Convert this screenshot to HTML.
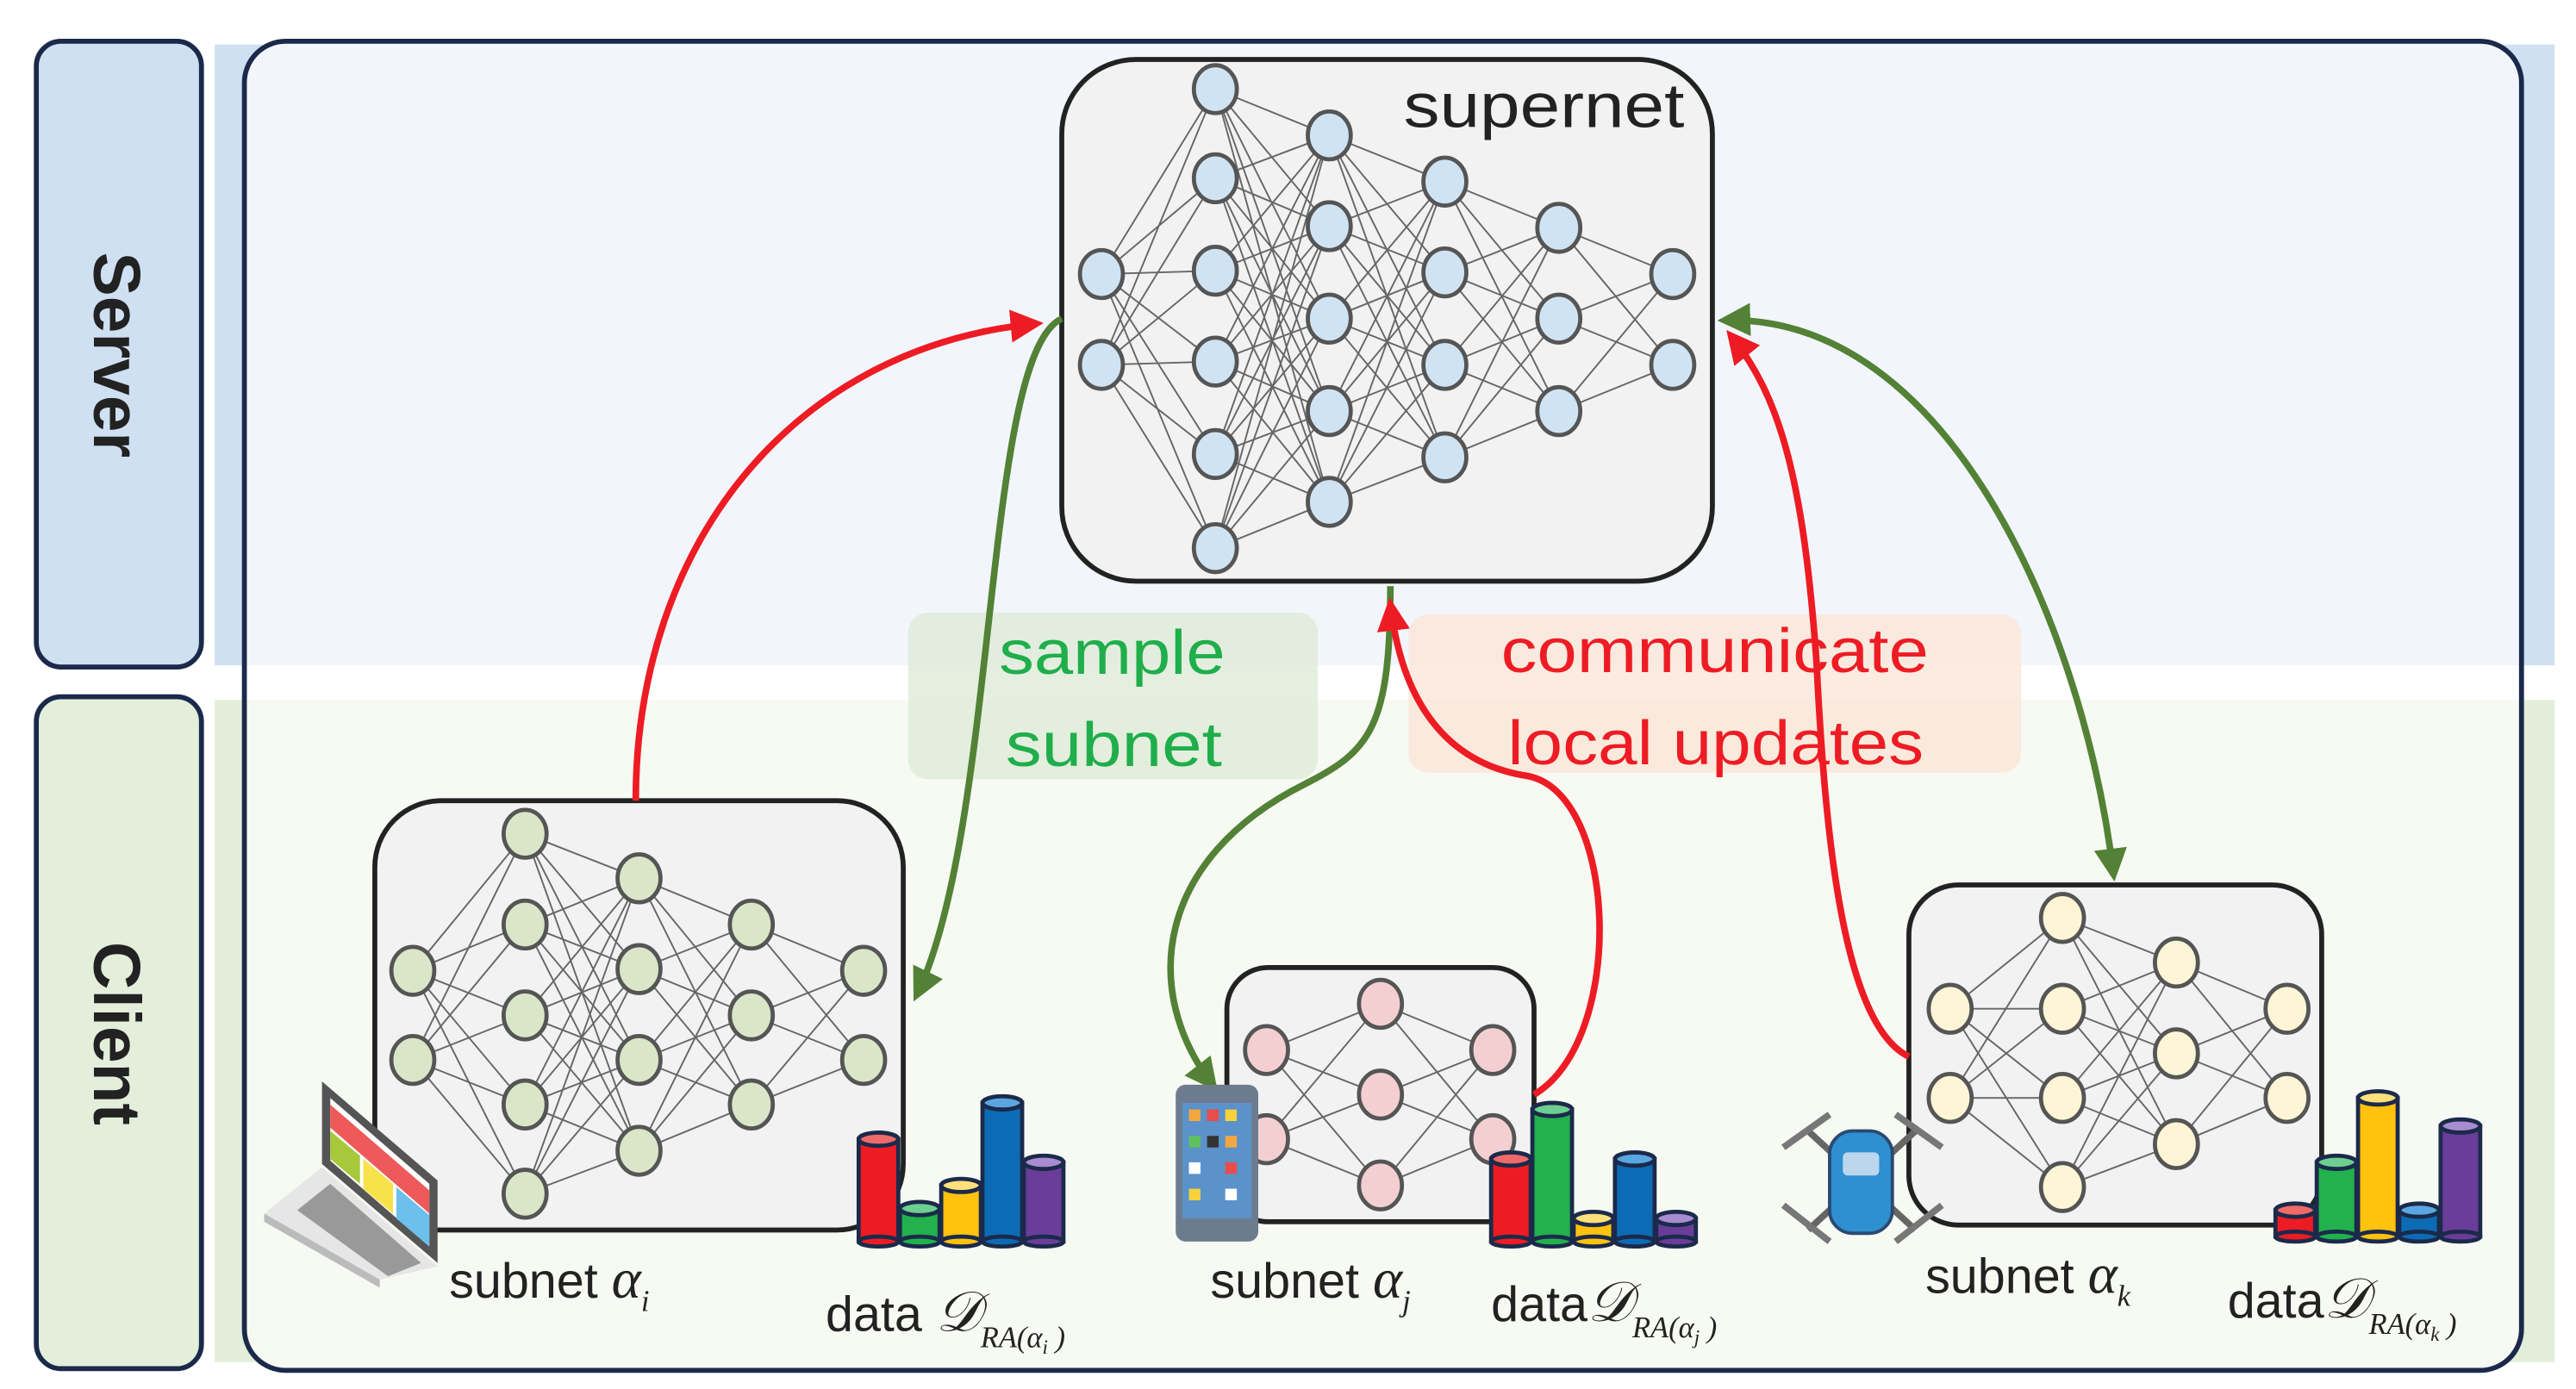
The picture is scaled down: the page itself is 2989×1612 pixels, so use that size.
<!DOCTYPE html>
<html><head><meta charset="utf-8">
<style>
html,body{margin:0;padding:0;background:#fff;}
svg{display:block;}
text{font-family:"Liberation Sans",sans-serif;}
</style></head>
<body>
<svg width="2989" height="1612" viewBox="0 0 1560 841.3" preserveAspectRatio="none" xmlns="http://www.w3.org/2000/svg">
<defs>
<marker id="ar" viewBox="0 0 10 10" refX="8" refY="5" markerWidth="5" markerHeight="5" orient="auto-start-reverse" markerUnits="strokeWidth"><path d="M0,0 L10,5 L0,10 z" fill="#ed1c24"/></marker>
<marker id="ag" viewBox="0 0 10 10" refX="8" refY="5" markerWidth="5" markerHeight="5" orient="auto-start-reverse" markerUnits="strokeWidth"><path d="M0,0 L10,5 L0,10 z" fill="#538135"/></marker>
</defs>
<rect x="130" y="27" width="1417" height="376" fill="#cfe0f3"/>
<rect x="130" y="424" width="1417" height="401" fill="#e2eed9"/>
<rect x="148" y="25" width="1379" height="805" rx="25" fill="#fff"/>
<path d="M173,25 H1502 A25,25 0 0 1 1527,50 V403 H148 V50 A25,25 0 0 1 173,25z" fill="#f2f6fc"/>
<path d="M148,424 H1527 V805 A25,25 0 0 1 1502,830 H173 A25,25 0 0 1 148,805z" fill="#f7f9f3"/>
<rect x="148" y="25" width="1379" height="805" rx="25" fill="none" stroke="#1b2a4a" stroke-width="3"/>
<rect x="22" y="25" width="100" height="379" rx="15" fill="#cfe0f2" stroke="#1b2a4a" stroke-width="3"/>
<text transform="translate(57,215) rotate(90)" text-anchor="middle" font-size="40" font-weight="bold" fill="#222">Server</text>
<rect x="22" y="422" width="100" height="407" rx="15" fill="#e3eedb" stroke="#1b2a4a" stroke-width="3"/>
<text transform="translate(57,626) rotate(90)" text-anchor="middle" font-size="40" font-weight="bold" fill="#222">Client</text>

<rect x="643" y="36" width="394" height="316" rx="45" fill="#f2f2f2" stroke="#222" stroke-width="3"/>
<text x="850" y="77" font-size="38" fill="#222" textLength="170" lengthAdjust="spacingAndGlyphs">supernet</text>
<rect x="227" y="485" width="320" height="260" rx="40" fill="#f2f2f2" stroke="#222" stroke-width="3"/>
<rect x="743" y="586" width="186" height="154" rx="25" fill="#f2f2f2" stroke="#222" stroke-width="3"/>
<rect x="1156" y="536" width="250" height="206" rx="30" fill="#f2f2f2" stroke="#222" stroke-width="3"/>

<g stroke="#666" stroke-width="1" fill="none">
<!-- supernet -->
<path d="M667 166L736 54M667 166L736 108M667 166L736 164M667 166L736 219M667 166L736 275M667 166L736 332M667 221L736 54M667 221L736 108M667 221L736 164M667 221L736 219M667 221L736 275M667 221L736 332
M736 54L805 82M736 54L805 137M736 54L805 193M736 54L805 249M736 54L805 304
M736 108L805 82M736 108L805 137M736 108L805 193M736 108L805 249M736 108L805 304
M736 164L805 82M736 164L805 137M736 164L805 193M736 164L805 249M736 164L805 304
M736 219L805 82M736 219L805 137M736 219L805 193M736 219L805 249M736 219L805 304
M736 275L805 82M736 275L805 137M736 275L805 193M736 275L805 249M736 275L805 304
M736 332L805 82M736 332L805 137M736 332L805 193M736 332L805 249M736 332L805 304
M805 82L875 110M805 82L875 165M805 82L875 221M805 82L875 277
M805 137L875 110M805 137L875 165M805 137L875 221M805 137L875 277
M805 193L875 110M805 193L875 165M805 193L875 221M805 193L875 277
M805 249L875 110M805 249L875 165M805 249L875 221M805 249L875 277
M805 304L875 110M805 304L875 165M805 304L875 221M805 304L875 277
M875 110L944 138M875 110L944 193M875 110L944 249
M875 165L944 138M875 165L944 193M875 165L944 249
M875 221L944 138M875 221L944 193M875 221L944 249
M875 277L944 138M875 277L944 193M875 277L944 249
M944 138L1013 166M944 138L1013 221M944 193L1013 166M944 193L1013 221M944 249L1013 166M944 249L1013 221"/>
<!-- client i -->
<path d="M250 588L318 505M250 588L318 560M250 588L318 615M250 588L318 669M250 588L318 723M250 642L318 505M250 642L318 560M250 642L318 615M250 642L318 669M250 642L318 723
M318 505L387 532M318 505L387 587M318 505L387 642M318 505L387 697
M318 560L387 532M318 560L387 587M318 560L387 642M318 560L387 697
M318 615L387 532M318 615L387 587M318 615L387 642M318 615L387 697
M318 669L387 532M318 669L387 587M318 669L387 642M318 669L387 697
M318 723L387 532M318 723L387 587M318 723L387 642M318 723L387 697
M387 532L455 560M387 532L455 615M387 532L455 669
M387 587L455 560M387 587L455 615M387 587L455 669
M387 642L455 560M387 642L455 615M387 642L455 669
M387 697L455 560M387 697L455 615M387 697L455 669
M455 560L523 588M455 560L523 642M455 615L523 588M455 615L523 642M455 669L523 588M455 669L523 642"/>
<!-- client j -->
<path d="M767 636L836 608M767 636L836 663M767 636L836 718M767 690L836 608M767 690L836 663M767 690L836 718
M836 608L904 636M836 608L904 690M836 663L904 636M836 663L904 690M836 718L904 636M836 718L904 690"/>
<!-- client k -->
<path d="M1181 611L1249 556M1181 611L1249 611M1181 611L1249 665M1181 611L1249 719M1181 665L1249 556M1181 665L1249 611M1181 665L1249 665M1181 665L1249 719
M1249 556L1318 583M1249 556L1318 638M1249 556L1318 693
M1249 611L1318 583M1249 611L1318 638M1249 611L1318 693
M1249 665L1318 583M1249 665L1318 638M1249 665L1318 693
M1249 719L1318 583M1249 719L1318 638M1249 719L1318 693
M1318 583L1385 611M1318 583L1385 665M1318 638L1385 611M1318 638L1385 665M1318 693L1385 611M1318 693L1385 665"/>
</g>

<g stroke="#555" stroke-width="2.5" fill="#d0e3f3">
<ellipse cx="667" cy="166" rx="13" ry="14.5"/><ellipse cx="667" cy="221" rx="13" ry="14.5"/>
<ellipse cx="736" cy="54" rx="13" ry="14.5"/><ellipse cx="736" cy="108" rx="13" ry="14.5"/><ellipse cx="736" cy="164" rx="13" ry="14.5"/><ellipse cx="736" cy="219" rx="13" ry="14.5"/><ellipse cx="736" cy="275" rx="13" ry="14.5"/><ellipse cx="736" cy="332" rx="13" ry="14.5"/>
<ellipse cx="805" cy="82" rx="13" ry="14.5"/><ellipse cx="805" cy="137" rx="13" ry="14.5"/><ellipse cx="805" cy="193" rx="13" ry="14.5"/><ellipse cx="805" cy="249" rx="13" ry="14.5"/><ellipse cx="805" cy="304" rx="13" ry="14.5"/>
<ellipse cx="875" cy="110" rx="13" ry="14.5"/><ellipse cx="875" cy="165" rx="13" ry="14.5"/><ellipse cx="875" cy="221" rx="13" ry="14.5"/><ellipse cx="875" cy="277" rx="13" ry="14.5"/>
<ellipse cx="944" cy="138" rx="13" ry="14.5"/><ellipse cx="944" cy="193" rx="13" ry="14.5"/><ellipse cx="944" cy="249" rx="13" ry="14.5"/>
<ellipse cx="1013" cy="166" rx="13" ry="14.5"/><ellipse cx="1013" cy="221" rx="13" ry="14.5"/>
</g>
<g stroke="#555" stroke-width="2.5" fill="#d9e6c8">
<ellipse cx="250" cy="588" rx="13" ry="14.5"/><ellipse cx="250" cy="642" rx="13" ry="14.5"/>
<ellipse cx="318" cy="505" rx="13" ry="14.5"/><ellipse cx="318" cy="560" rx="13" ry="14.5"/><ellipse cx="318" cy="615" rx="13" ry="14.5"/><ellipse cx="318" cy="669" rx="13" ry="14.5"/><ellipse cx="318" cy="723" rx="13" ry="14.5"/>
<ellipse cx="387" cy="532" rx="13" ry="14.5"/><ellipse cx="387" cy="587" rx="13" ry="14.5"/><ellipse cx="387" cy="642" rx="13" ry="14.5"/><ellipse cx="387" cy="697" rx="13" ry="14.5"/>
<ellipse cx="455" cy="560" rx="13" ry="14.5"/><ellipse cx="455" cy="615" rx="13" ry="14.5"/><ellipse cx="455" cy="669" rx="13" ry="14.5"/>
<ellipse cx="523" cy="588" rx="13" ry="14.5"/><ellipse cx="523" cy="642" rx="13" ry="14.5"/>
</g>
<g stroke="#555" stroke-width="2.5" fill="#f4cfd2">
<ellipse cx="767" cy="636" rx="13" ry="14.5"/><ellipse cx="767" cy="690" rx="13" ry="14.5"/>
<ellipse cx="836" cy="608" rx="13" ry="14.5"/><ellipse cx="836" cy="663" rx="13" ry="14.5"/><ellipse cx="836" cy="718" rx="13" ry="14.5"/>
<ellipse cx="904" cy="636" rx="13" ry="14.5"/><ellipse cx="904" cy="690" rx="13" ry="14.5"/>
</g>
<g stroke="#555" stroke-width="2.5" fill="#fdf5d5">
<ellipse cx="1181" cy="611" rx="13" ry="14.5"/><ellipse cx="1181" cy="665" rx="13" ry="14.5"/>
<ellipse cx="1249" cy="556" rx="13" ry="14.5"/><ellipse cx="1249" cy="611" rx="13" ry="14.5"/><ellipse cx="1249" cy="665" rx="13" ry="14.5"/><ellipse cx="1249" cy="719" rx="13" ry="14.5"/>
<ellipse cx="1318" cy="583" rx="13" ry="14.5"/><ellipse cx="1318" cy="638" rx="13" ry="14.5"/><ellipse cx="1318" cy="693" rx="13" ry="14.5"/>
<ellipse cx="1385" cy="611" rx="13" ry="14.5"/><ellipse cx="1385" cy="665" rx="13" ry="14.5"/>
</g>

<rect x="550" y="371" width="248" height="101" rx="12" fill="#dcead5" opacity="0.75"/>
<text x="605" y="408" font-size="38" fill="#1fae4b" textLength="137" lengthAdjust="spacingAndGlyphs">sample</text>
<text x="609" y="464" font-size="38" fill="#1fae4b" textLength="131" lengthAdjust="spacingAndGlyphs">subnet</text>
<rect x="853" y="372" width="371" height="96" rx="12" fill="#fbe4d6" opacity="0.75"/>
<text x="909" y="407" font-size="38" fill="#ed1c24" textLength="259" lengthAdjust="spacingAndGlyphs">communicate</text>
<text x="913" y="463" font-size="38" fill="#ed1c24" textLength="252" lengthAdjust="spacingAndGlyphs">local updates</text>

<g fill="none" stroke-width="4">
<path d="M385,485 C385,330 480,210 628,196" stroke="#ed1c24" marker-end="url(#ar)"/>
<path d="M643,193 C595,215 605,500 555,603" stroke="#538135" marker-end="url(#ag)"/>
<path d="M842,355 C842,440 830,455 790,475 C700,520 690,600 735,658" stroke="#538135" marker-end="url(#ag)"/>
<path d="M929,663 C985,630 980,480 925,470 C860,460 846,400 842,366" stroke="#ed1c24" marker-end="url(#ar)"/>
<path d="M1156,640 C1115,620 1105,500 1100,400 C1092,290 1078,240 1048,203" stroke="#ed1c24" marker-end="url(#ar)"/>
<path d="M1044,194 C1180,190 1262,380 1280,530" stroke="#538135" marker-start="url(#ag)" marker-end="url(#ag)"/>
</g>

<!-- bars -->
<g stroke="#1b2a4a" stroke-width="2.5">
<rect x="520" y="690" width="24" height="62" fill="#ed1c24"/><ellipse cx="532" cy="752" rx="12" ry="3" fill="#ed1c24"/><ellipse cx="532" cy="690" rx="12" ry="4" fill="#f06a6a"/>
<rect x="545" y="732" width="24" height="20" fill="#22b14c"/><ellipse cx="557" cy="752" rx="12" ry="3" fill="#22b14c"/><ellipse cx="557" cy="732" rx="12" ry="4" fill="#6ecf90"/>
<rect x="570" y="718" width="24" height="34" fill="#ffc20e"/><ellipse cx="582" cy="752" rx="12" ry="3" fill="#ffc20e"/><ellipse cx="582" cy="718" rx="12" ry="4" fill="#ffe07a"/>
<rect x="595" y="668" width="24" height="84" fill="#0d6bb5"/><ellipse cx="607" cy="752" rx="12" ry="3" fill="#0d6bb5"/><ellipse cx="607" cy="668" rx="12" ry="4" fill="#5aa6e0"/>
<rect x="620" y="704" width="24" height="48" fill="#6a3d9a"/><ellipse cx="632" cy="752" rx="12" ry="3" fill="#6a3d9a"/><ellipse cx="632" cy="704" rx="12" ry="4" fill="#a98bd0"/>

<rect x="903" y="702" width="24" height="50" fill="#ed1c24"/><ellipse cx="915" cy="752" rx="12" ry="3" fill="#ed1c24"/><ellipse cx="915" cy="702" rx="12" ry="4" fill="#f06a6a"/>
<rect x="928" y="672" width="24" height="80" fill="#22b14c"/><ellipse cx="940" cy="752" rx="12" ry="3" fill="#22b14c"/><ellipse cx="940" cy="672" rx="12" ry="4" fill="#6ecf90"/>
<rect x="953" y="738" width="24" height="14" fill="#ffc20e"/><ellipse cx="965" cy="752" rx="12" ry="3" fill="#ffc20e"/><ellipse cx="965" cy="738" rx="12" ry="4" fill="#ffe07a"/>
<rect x="978" y="702" width="24" height="50" fill="#0d6bb5"/><ellipse cx="990" cy="752" rx="12" ry="3" fill="#0d6bb5"/><ellipse cx="990" cy="702" rx="12" ry="4" fill="#5aa6e0"/>
<rect x="1003" y="738" width="24" height="14" fill="#6a3d9a"/><ellipse cx="1015" cy="752" rx="12" ry="3" fill="#6a3d9a"/><ellipse cx="1015" cy="738" rx="12" ry="4" fill="#a98bd0"/>

<rect x="1378" y="733" width="24" height="16" fill="#ed1c24"/><ellipse cx="1390" cy="749" rx="12" ry="3" fill="#ed1c24"/><ellipse cx="1390" cy="733" rx="12" ry="4" fill="#f06a6a"/>
<rect x="1403" y="704" width="24" height="45" fill="#22b14c"/><ellipse cx="1415" cy="749" rx="12" ry="3" fill="#22b14c"/><ellipse cx="1415" cy="704" rx="12" ry="4" fill="#6ecf90"/>
<rect x="1428" y="665" width="24" height="84" fill="#ffc20e"/><ellipse cx="1440" cy="749" rx="12" ry="3" fill="#ffc20e"/><ellipse cx="1440" cy="665" rx="12" ry="4" fill="#ffe07a"/>
<rect x="1453" y="733" width="24" height="16" fill="#0d6bb5"/><ellipse cx="1465" cy="749" rx="12" ry="3" fill="#0d6bb5"/><ellipse cx="1465" cy="733" rx="12" ry="4" fill="#5aa6e0"/>
<rect x="1478" y="682" width="24" height="67" fill="#6a3d9a"/><ellipse cx="1490" cy="749" rx="12" ry="3" fill="#6a3d9a"/><ellipse cx="1490" cy="682" rx="12" ry="4" fill="#a98bd0"/>
</g>

<!-- laptop -->
<g transform="translate(160,655)">
<polygon points="35,0 105,60 105,110 35,50" fill="#555"/>
<polygon points="40,10 100,62 100,100 40,48" fill="#fff"/>
<polygon points="40,14 100,66 100,80 40,28" fill="#ee5a5a"/>
<polygon points="40,30 58,45 58,62 40,47" fill="#a6c83a"/>
<polygon points="60,47 78,62 78,80 60,65" fill="#f7e24b"/>
<polygon points="80,64 100,81 100,100 80,83" fill="#6bc1ec"/>
<polygon points="0,80 35,52 105,112 70,120" fill="#e6e6e6"/>
<polygon points="20,78 40,62 95,110 75,118" fill="#999"/>
<polygon points="0,80 70,120 70,125 0,85" fill="#bbb"/>
</g>
<!-- phone -->
<rect x="712" y="657" width="50" height="95" rx="6" fill="#6d7b8f"/>
<rect x="716" y="668" width="42" height="70" fill="#5a92c9"/>
<g fill="#f4a640"><rect x="720" y="672" width="7" height="7"/><rect x="731" y="672" width="7" height="7" fill="#e94c4c"/><rect x="742" y="672" width="7" height="7" fill="#f7d23c"/><rect x="720" y="688" width="7" height="7" fill="#5fc15f"/><rect x="731" y="688" width="7" height="7" fill="#333"/><rect x="742" y="688" width="7" height="7"/><rect x="720" y="704" width="7" height="7" fill="#fff"/><rect x="742" y="704" width="7" height="7" fill="#e94c4c"/><rect x="720" y="720" width="7" height="7" fill="#f7d23c"/><rect x="742" y="720" width="7" height="7" fill="#fff"/></g>
<!-- drone -->
<g stroke="#666" stroke-width="4" fill="none">
<line x1="1095" y1="685" x2="1160" y2="745"/><line x1="1160" y1="685" x2="1095" y2="745"/>
</g>
<g stroke="#777" stroke-width="4">
<line x1="1080" y1="695" x2="1108" y2="675"/><line x1="1148" y1="675" x2="1176" y2="695"/>
<line x1="1080" y1="730" x2="1108" y2="752"/><line x1="1148" y1="752" x2="1176" y2="730"/>
</g>
<rect x="1108" y="685" width="38" height="62" rx="14" fill="#2f8fd1" stroke="#2a4a70" stroke-width="2"/>
<rect x="1116" y="698" width="22" height="14" rx="3" fill="#bcd6ee"/>

<g font-size="30" fill="#222">
<text x="272" y="786">subnet <tspan font-family="Liberation Serif" font-style="italic" font-size="34">α</tspan><tspan font-family="Liberation Serif" font-style="italic" font-size="18" dy="8">i</tspan></text>
<text x="500" y="806">data <tspan font-family="Liberation Serif" font-style="italic" font-size="34">𝒟</tspan><tspan font-family="Liberation Serif" font-style="italic" font-size="18" dy="10">RA(α<tspan font-size="12" dy="4">i</tspan><tspan dy="-4"> )</tspan></tspan></text>
<text x="733" y="786">subnet <tspan font-family="Liberation Serif" font-style="italic" font-size="34">α</tspan><tspan font-family="Liberation Serif" font-style="italic" font-size="18" dy="8">j</tspan></text>
<text x="903" y="800">data<tspan font-family="Liberation Serif" font-style="italic" font-size="34">𝒟</tspan><tspan font-family="Liberation Serif" font-style="italic" font-size="18" dy="10">RA(α<tspan font-size="12" dy="4">j</tspan><tspan dy="-4"> )</tspan></tspan></text>
<text x="1166" y="783">subnet <tspan font-family="Liberation Serif" font-style="italic" font-size="34">α</tspan><tspan font-family="Liberation Serif" font-style="italic" font-size="18" dy="8">k</tspan></text>
<text x="1349" y="798">data<tspan font-family="Liberation Serif" font-style="italic" font-size="34">𝒟</tspan><tspan font-family="Liberation Serif" font-style="italic" font-size="18" dy="10">RA(α<tspan font-size="12" dy="4">k</tspan><tspan dy="-4"> )</tspan></tspan></text>
</g>
</svg>
</body></html>
